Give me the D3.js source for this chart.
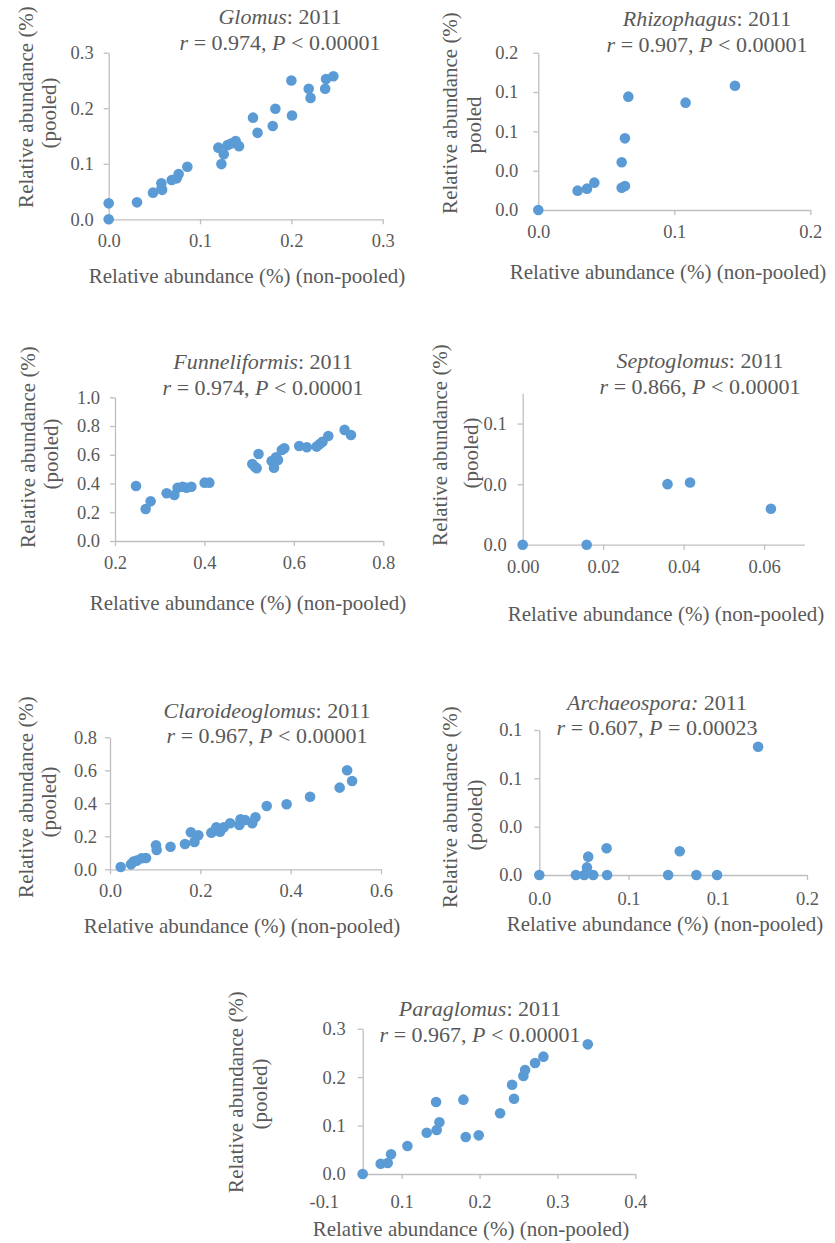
<!DOCTYPE html>
<html>
<head>
<meta charset="utf-8">
<script src="https://cdn.jsdelivr.net/npm/d3@7"></script>
<style>
  html, body { margin: 0; padding: 0; background: #ffffff; }
  svg { display: block; }
  svg text { font-family: "Liberation Serif", "Times New Roman", Times, "DejaVu Serif", serif; }
</style>
</head>
<body>
<svg id="fig" width="835" height="1243"></svg>
<script>
// Relative abundance of each AMF genus (2011): non-pooled (x) vs pooled (y)

const glomusX = [0, 0, 0.031, 0.0485, 0.0577, 0.0577, 0.0585, 0.069, 0.0745, 0.0766, 0.0861, 0.120, 0.1234, 0.126, 0.130, 0.134, 0.139, 0.1427, 0.158, 0.163, 0.1796, 0.1825, 0.200, 0.2007, 0.219, 0.221, 0.237, 0.238, 0.246];
const glomusY = [0.0287, 0, 0.0305, 0.048, 0.055, 0.0647, 0.053, 0.0707, 0.0737, 0.0814, 0.0946, 0.129, 0.0994, 0.117, 0.1335, 0.1365, 0.141, 0.1317, 0.183, 0.1557, 0.168, 0.199, 0.250, 0.187, 0.235, 0.2186, 0.235, 0.2527, 0.2575];

const rhizophagusX = [0, 0.0289, 0.0358, 0.0412, 0.0613, 0.0637, 0.0613, 0.0637, 0.0662, 0.1083, 0.1446];
const rhizophagusY = [0, 0.0197, 0.0217, 0.0278, 0.0227, 0.0244, 0.0485, 0.0729, 0.1153, 0.1092, 0.1264];

const funneliformisX = [0.247, 0.2686, 0.2797, 0.3155, 0.3327, 0.340, 0.351, 0.360, 0.3707, 0.4005, 0.411, 0.507, 0.513, 0.5168, 0.521, 0.5503, 0.5555, 0.560, 0.5645, 0.573, 0.5786, 0.612, 0.629, 0.651, 0.658, 0.664, 0.677, 0.7135, 0.7277];
const funneliformisY = [0.383, 0.2227, 0.276, 0.332, 0.320, 0.371, 0.378, 0.371, 0.378, 0.406, 0.406, 0.536, 0.517, 0.506, 0.6056, 0.557, 0.510, 0.5824, 0.564, 0.633, 0.645, 0.661, 0.652, 0.657, 0.675, 0.691, 0.731, 0.773, 0.738];

const septoglomusX = [0, 0.0159, 0.036, 0.0416, 0.0617];
const septoglomusY = [0, 0, 0.040, 0.0411, 0.0237];

const claroideoglomusX = [0.0236, 0.0465, 0.0517, 0.059, 0.070, 0.0797, 0.1018, 0.1033, 0.134, 0.166, 0.179, 0.187, 0.1956, 0.2244, 0.2354, 0.2435, 0.252, 0.266, 0.2863, 0.289, 0.299, 0.315, 0.322, 0.347, 0.391, 0.443, 0.5085, 0.525, 0.536];
const claroideoglomusY = [0.014, 0.030, 0.0465, 0.0525, 0.0667, 0.0687, 0.1455, 0.117, 0.137, 0.1535, 0.224, 0.166, 0.206, 0.222, 0.2545, 0.228, 0.2545, 0.279, 0.2687, 0.303, 0.299, 0.279, 0.315, 0.384, 0.394, 0.440, 0.495, 0.600, 0.5354];

const archaeosporaX = [0, 0.0205, 0.0252, 0.0267, 0.0274, 0.0302, 0.0377, 0.038, 0.0722, 0.0787, 0.088, 0.0996, 0.1226];
const archaeosporaY = [0, 0, 0, 0.0063, 0.0152, 0, 0.0221, 0, 0, 0.0196, 0, 0, 0.1062];

const paraglomusX = [0.05, 0.0731, 0.0821, 0.0864, 0.1074, 0.1322, 0.145, 0.1442, 0.1485, 0.1793, 0.1823, 0.199, 0.2264, 0.2418, 0.2443, 0.2563, 0.2585, 0.2713, 0.282, 0.339];
const paraglomusY = [0, 0.0213, 0.0227, 0.0406, 0.0578, 0.0853, 0.0908, 0.1487, 0.1067, 0.1535, 0.0764, 0.0798, 0.1253, 0.1844, 0.1555, 0.2023, 0.2147, 0.2292, 0.2423, 0.2677];

// Axis ranges, tick positions and the labels printed at them
const glomusXDomain = [0, 0.3], glomusYDomain = [0, 0.3];
const glomusXTicks = [0, 0.1, 0.2, 0.3], glomusXLabels = ["0.0", "0.1", "0.2", "0.3"];
const glomusYTicks = [0, 0.1, 0.2, 0.3], glomusYLabels = ["0.0", "0.1", "0.2", "0.3"];

const rhizophagusXDomain = [0, 0.2], rhizophagusYDomain = [0, 0.16];
const rhizophagusXTicks = [0, 0.1, 0.2], rhizophagusXLabels = ["0.0", "0.1", "0.2"];
const rhizophagusYTicks = [0, 0.04, 0.08, 0.12, 0.16], rhizophagusYLabels = ["0.0", "0.0", "0.1", "0.1", "0.2"];

const funneliformisXDomain = [0.2, 0.8], funneliformisYDomain = [0, 1.0];
const funneliformisXTicks = [0.2, 0.4, 0.6, 0.8], funneliformisXLabels = ["0.2", "0.4", "0.6", "0.8"];
const funneliformisYTicks = [0, 0.2, 0.4, 0.6, 0.8, 1.0], funneliformisYLabels = ["0.0", "0.2", "0.4", "0.6", "0.8", "1.0"];

const septoglomusXDomain = [0, 0.07], septoglomusYDomain = [0, 0.1];
const septoglomusXTicks = [0, 0.02, 0.04, 0.06], septoglomusXLabels = ["0.00", "0.02", "0.04", "0.06"];
const septoglomusYTicks = [0, 0.04, 0.08], septoglomusYLabels = ["0.0", "0.0", "0.1"];

const claroideoglomusXDomain = [0, 0.6], claroideoglomusYDomain = [0, 0.8];
const claroideoglomusXTicks = [0, 0.2, 0.4, 0.6], claroideoglomusXLabels = ["0.0", "0.2", "0.4", "0.6"];
const claroideoglomusYTicks = [0, 0.2, 0.4, 0.6, 0.8], claroideoglomusYLabels = ["0.0", "0.2", "0.4", "0.6", "0.8"];

const archaeosporaXDomain = [0, 0.15], archaeosporaYDomain = [0, 0.12];
const archaeosporaXTicks = [0, 0.05, 0.1, 0.15], archaeosporaXLabels = ["0.0", "0.1", "0.1", "0.2"];
const archaeosporaYTicks = [0, 0.04, 0.08, 0.12], archaeosporaYLabels = ["0.0", "0.0", "0.1", "0.1"];

const paraglomusXDomain = [0.05, 0.4], paraglomusYDomain = [0, 0.3];
const paraglomusXTicks = [0, 0.1, 0.2, 0.3, 0.4], paraglomusXLabels = ["-0.1", "0.1", "0.2", "0.3", "0.4"];
const paraglomusYTicks = [0, 0.1, 0.2, 0.3], paraglomusYLabels = ["0.0", "0.1", "0.2", "0.3"];

// Genus names and correlation statistics
const genera = ["Glomus", "Rhizophagus", "Funneliformis", "Septoglomus", "Claroideoglomus", "Archaeospora", "Paraglomus"];
const colonItalic = [false, false, false, false, false, true, false];
const rValues = ["0.974", "0.907", "0.974", "0.866", "0.967", "0.607", "0.967"];
const pTexts = ["< 0.00001", "< 0.00001", "< 0.00001", "< 0.00001", "< 0.00001", "= 0.00023", "< 0.00001"];
const yearLabel = "2011";
const xTitle = "Relative abundance (%) (non-pooled)";
const yTitle1 = "Relative abundance (%)";
const yTitle2 = ["(pooled)", "pooled", "(pooled)", "(pooled)", "(pooled)", "(pooled)", "(pooled)"];

// Panel placement on the page (pixels)
const layout = [
  { px: [108.7, 382.7], py: [219.3, 52.7], yGap: 15, xPad: 10, tx: 280, t1: 24, t2: 50, xTitleX: 247, xTitleY: 283, y1x: 33, y1c: 107, y2x: 56, y2c: 113 },
  { px: [538.3, 810.3], py: [210, 52.7], yGap: 20, xPad: 10, tx: 707, t1: 26, t2: 52, xTitleX: 668, xTitleY: 279, y1x: 457, y1c: 113, y2x: 481, y2c: 125 },
  { px: [115, 383.3], py: [541, 397.3], yGap: 15, xPad: 10, tx: 263, t1: 369, t2: 395, xTitleX: 248, xTitleY: 610, y1x: 35, y1c: 447, y2x: 58, y2c: 454 },
  { px: [522.7, 804.3], py: [544.7, 393.3], yGap: 16, xPad: 10, tx: 700, t1: 368, t2: 394, xTitleX: 666, xTitleY: 621, y1x: 447, y1c: 445, y2x: 478, y2c: 453 },
  { px: [110, 381], py: [869.3, 737.3], yGap: 13, xPad: 10, tx: 267, t1: 718, t2: 743, xTitleX: 242, xTitleY: 933, y1x: 33, y1c: 797, y2x: 56, y2c: 802 },
  { px: [539.3, 807], py: [875, 730], yGap: 17, xPad: 12, tx: 657, t1: 710, t2: 735, xTitleX: 665, xTitleY: 931, y1x: 457, y1c: 807, y2x: 482, y2c: 815 },
  { px: [362.7, 635.3], py: [1174, 1028.7], yGap: 17, xPad: 16, tx: 480, t1: 1016, t2: 1042, xTitleX: 471, xTitleY: 1236, y1x: 243, y1c: 1092, y2x: 267, y2c: 1094 }
];

const panels = [
  { x: glomusX, y: glomusY, xd: glomusXDomain, yd: glomusYDomain, xt: glomusXTicks, xl: glomusXLabels, yt: glomusYTicks, yl: glomusYLabels },
  { x: rhizophagusX, y: rhizophagusY, xd: rhizophagusXDomain, yd: rhizophagusYDomain, xt: rhizophagusXTicks, xl: rhizophagusXLabels, yt: rhizophagusYTicks, yl: rhizophagusYLabels },
  { x: funneliformisX, y: funneliformisY, xd: funneliformisXDomain, yd: funneliformisYDomain, xt: funneliformisXTicks, xl: funneliformisXLabels, yt: funneliformisYTicks, yl: funneliformisYLabels },
  { x: septoglomusX, y: septoglomusY, xd: septoglomusXDomain, yd: septoglomusYDomain, xt: septoglomusXTicks, xl: septoglomusXLabels, yt: septoglomusYTicks, yl: septoglomusYLabels },
  { x: claroideoglomusX, y: claroideoglomusY, xd: claroideoglomusXDomain, yd: claroideoglomusYDomain, xt: claroideoglomusXTicks, xl: claroideoglomusXLabels, yt: claroideoglomusYTicks, yl: claroideoglomusYLabels },
  { x: archaeosporaX, y: archaeosporaY, xd: archaeosporaXDomain, yd: archaeosporaYDomain, xt: archaeosporaXTicks, xl: archaeosporaXLabels, yt: archaeosporaYTicks, yl: archaeosporaYLabels },
  { x: paraglomusX, y: paraglomusY, xd: paraglomusXDomain, yd: paraglomusYDomain, xt: paraglomusXTicks, xl: paraglomusXLabels, yt: paraglomusYTicks, yl: paraglomusYLabels }
];

const FONT = '"Liberation Serif", "Times New Roman", Times, "DejaVu Serif", serif';
const TEXT = "#595959";
const AXIS = "#bfbfbf";
const DOT = "#5b9bd5";
const TICK_FS = 18.5;
const HEAD_FS = 22;
const AXTITLE_FS = 21;
const TICK_LEN = 5;

const svg = d3.select("#fig");

panels.forEach((p, i) => {
  const L = layout[i];
  const g = svg.append("g").attr("class", "panel");

  const x = d3.scaleLinear().domain(p.xd).range(L.px);
  const y = d3.scaleLinear().domain(p.yd).range(L.py);

  // x axis
  const xAxis = d3.axisBottom(x)
    .tickValues(p.xt)
    .tickFormat((d, k) => p.xl[k])
    .tickSizeInner(TICK_LEN).tickSizeOuter(0).tickPadding(L.xPad);
  const gx = g.append("g").attr("transform", `translate(0,${L.py[0]})`).call(xAxis);
  // labels that sit left of the axis start get no tick mark
  gx.selectAll(".tick").filter(d => d < p.xd[0] - 1e-9).select("line").remove();

  // y axis
  const yAxis = d3.axisLeft(y)
    .tickValues(p.yt)
    .tickFormat((d, k) => p.yl[k])
    .tickSizeInner(TICK_LEN).tickSizeOuter(0).tickPadding(L.yGap - TICK_LEN);
  const gy = g.append("g").attr("transform", `translate(${L.px[0]},0)`).call(yAxis);

  [gx, gy].forEach(a => {
    a.attr("font-family", null).attr("font-size", null);
    a.select(".domain").attr("stroke", AXIS).attr("stroke-width", 1.3);
    a.selectAll(".tick line").attr("stroke", AXIS).attr("stroke-width", 1.3);
    a.selectAll(".tick text").attr("fill", TEXT).attr("font-family", FONT).attr("font-size", TICK_FS);
  });

  // points
  g.append("g").selectAll("circle")
    .data(p.x.map((v, k) => [v, p.y[k]]))
    .join("circle")
    .attr("cx", d => x(d[0]))
    .attr("cy", d => y(d[1]))
    .attr("r", 5.3)
    .attr("fill", DOT);

  // panel title: genus name and correlation
  const t1 = g.append("text").attr("x", L.tx).attr("y", L.t1).attr("text-anchor", "middle")
    .attr("fill", TEXT).attr("font-family", FONT).attr("font-size", HEAD_FS);
  t1.append("tspan").attr("font-style", "italic").text(genera[i] + (colonItalic[i] ? ":" : ""));
  t1.append("tspan").text((colonItalic[i] ? "" : ":") + " " + yearLabel);

  const t2 = g.append("text").attr("x", L.tx).attr("y", L.t2).attr("text-anchor", "middle")
    .attr("fill", TEXT).attr("font-family", FONT).attr("font-size", HEAD_FS)
    .style("white-space", "pre");
  t2.append("tspan").attr("font-style", "italic").text("r");
  t2.append("tspan").text(" = " + rValues[i] + ", ");
  t2.append("tspan").attr("font-style", "italic").text("P");
  t2.append("tspan").text(" " + pTexts[i]);

  // axis titles
  g.append("text").attr("x", L.xTitleX).attr("y", L.xTitleY).attr("text-anchor", "middle")
    .attr("fill", TEXT).attr("font-family", FONT).attr("font-size", AXTITLE_FS)
    .text(xTitle);

  g.append("text").attr("transform", `translate(${L.y1x},${L.y1c}) rotate(-90)`).attr("text-anchor", "middle")
    .attr("fill", TEXT).attr("font-family", FONT).attr("font-size", AXTITLE_FS)
    .text(yTitle1);
  g.append("text").attr("transform", `translate(${L.y2x},${L.y2c}) rotate(-90)`).attr("text-anchor", "middle")
    .attr("fill", TEXT).attr("font-family", FONT).attr("font-size", AXTITLE_FS)
    .text(yTitle2[i]);
});
</script>
</body>
</html>
